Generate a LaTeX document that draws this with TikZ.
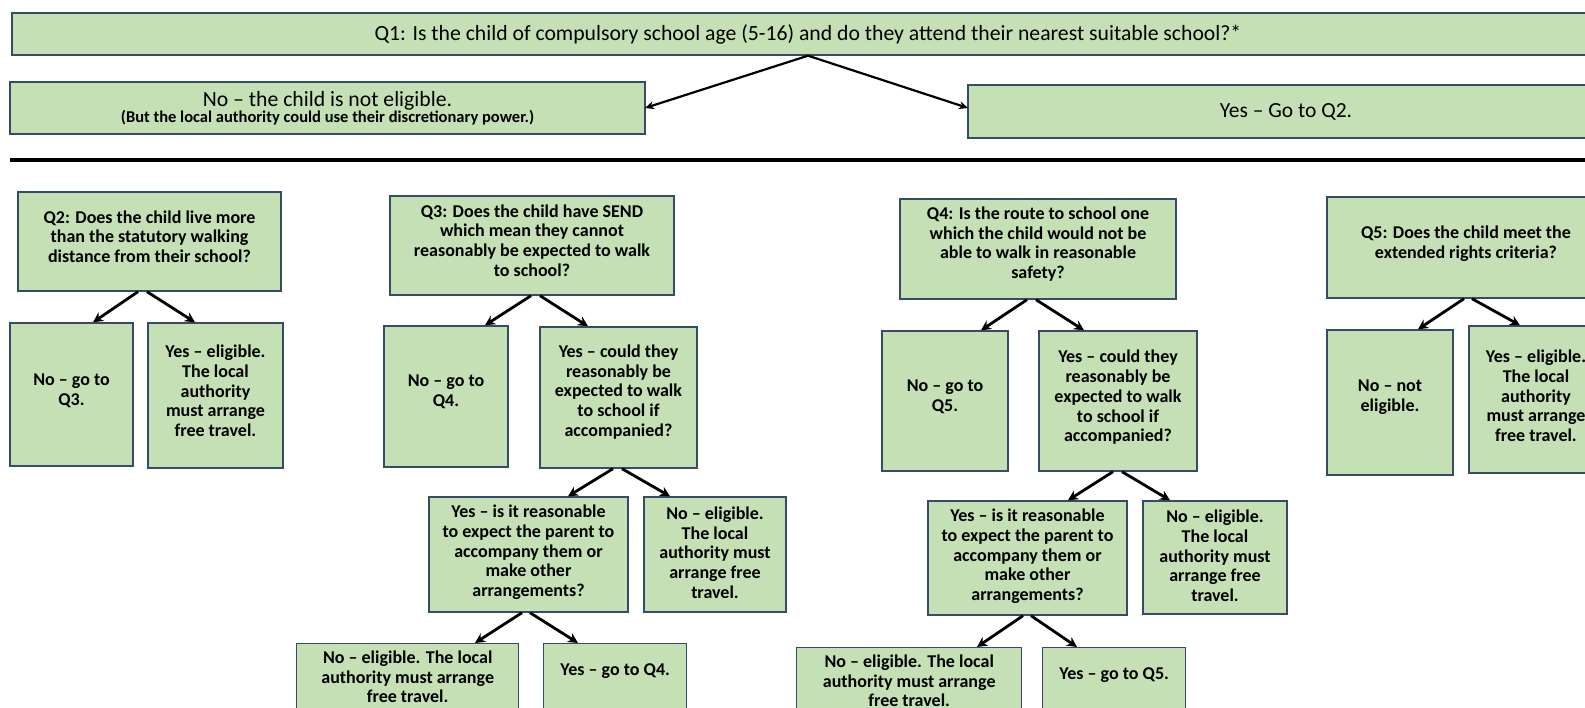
\documentclass[tikz,border=0pt]{standalone}
\usepackage{fontspec}
\setmainfont{Carlito}
\usetikzlibrary{arrows.meta,calc}
\definecolor{boxgreen}{RGB}{197,224,180}
\definecolor{boxline}{RGB}{52,76,106}
\begin{document}
\begin{tikzpicture}[x=1pt,y=1pt,
  box/.style={draw=boxline, fill=boxgreen, line width=1.4pt, inner sep=0pt, align=center},
  topbox/.style={box, font=\fontsize{21.7}{24}\selectfont},
  arr/.style={-{Stealth[length=10pt,width=10pt]}, line width=2.8pt, black},
  tarr/.style={-{Stealth[length=9pt,width=8pt]}, line width=2.2pt, black},
  txt/.style={inner sep=0pt, align=center, font=\bfseries\fontsize{18}{19.7}\selectfont}]
\clip (0,0) rectangle (1585,-708);
\fill[white] (0,0) rectangle (1585,-708);

% top part
\node[topbox, minimum width=1592pt, minimum height=42pt] (q1) at (808,-34)
  {Q1: Is the child of compulsory school age (5-16) and do they attend their nearest suitable school?*};
\node[box, minimum width=635pt, minimum height=52pt] (no1) at (327.5,-108)
  {{\fontsize{21.7}{22}\selectfont No -- the child is not eligible.}\\[-1pt]{\bfseries\fontsize{16.5}{18}\selectfont (But the local authority could use their discretionary power.)}};
\node[box, minimum width=636pt, minimum height=53pt, font=\fontsize{21.5}{24}\selectfont] (yes1) at (1286,-111.5)
  {Yes -- Go to Q2.};
\draw[tarr] (808,0 |- q1.south) -- (645,-108);
\draw[tarr] (808,0 |- q1.south) -- (968,-108);

\draw[line width=3.8pt, black] (10,-160) -- (1600,-160);

% Q2
\node[box, minimum width=263pt, minimum height=99pt] (q2) at (149.5,-241.5) {};
\node[txt] (q2t) at ([yshift=5pt]q2.center)
  {Q2: Does the child live more\\than the statutory walking\\distance from their school?};
\node[box, minimum width=123pt, minimum height=143pt] (q2n) at (71.5,-394.5) {};
\node[txt] (q2nt) at ([yshift=4pt]q2n.center) {No -- go to\\Q3.};
\node[box, minimum width=135pt, minimum height=145pt] (q2y) at (215.5,-395.5) {};
\node[txt] (q2yt) at ([yshift=4.5pt]q2y.center)
  {Yes -- eligible.\\The local\\authority\\must arrange\\free travel.};
\draw[arr] (138,0 |- q2.south) -- (93,0 |- q2n.north);
\draw[arr] (147,0 |- q2.south) -- (195,0 |- q2y.north);

% Q3
\node[box, minimum width=284pt, minimum height=99pt] (q3) at (532,-245.5) {};
\node[txt] (q3t) at ([yshift=5pt]q3.center)
  {Q3: Does the child have SEND\\which mean they cannot\\reasonably be expected to walk\\to school?};
\node[box, minimum width=124pt, minimum height=141pt] (q3n) at (446,-396.5) {};
\node[txt] (q3nt) at ([yshift=4.5pt]q3n.center) {No -- go to\\Q4.};
\node[box, minimum width=157pt, minimum height=141pt] (q3y) at (618.5,-397.5) {};
\node[txt] (q3yt) at ([yshift=5.5pt]q3y.center)
  {Yes -- could they\\reasonably be\\expected to walk\\to school if\\accompanied?};
\draw[arr] (531,0 |- q3.south) -- (485,0 |- q3n.north);
\draw[arr] (540,0 |- q3.south) -- (588,0 |- q3y.north);

\node[box, minimum width=199pt, minimum height=115pt] (q3r) at (528.5,-554.5) {};
\node[txt] (q3rt) at ([yshift=2pt]q3r.center)
  {Yes -- is it reasonable\\to expect the parent to\\accompany them or\\make other\\arrangements?};
\node[box, minimum width=142pt, minimum height=115pt] (q3e) at (715,-554.5) {};
\node[txt] (q3et) at ([yshift=2pt]q3e.center)
  {No -- eligible.\\The local\\authority must\\arrange free\\travel.};
\draw[arr] (613,0 |- q3y.south) -- (568,0 |- q3r.north);
\draw[arr] (622,0 |- q3y.south) -- (670,0 |- q3e.north);

\node[box, minimum width=222pt, minimum height=120pt, anchor=north west] (q3bn) at (296,-643) {};
\node[txt] (q3bnt) at ([yshift=-34pt]q3bn.north)
  {No -- eligible. The local\\authority must arrange\\free travel.};
\node[box, minimum width=143pt, minimum height=120pt, anchor=north west] (q3by) at (543,-643) {};
\node[txt] (q3byt) at ([yshift=-28pt]q3by.north) {Yes -- go to Q4.};
\draw[arr] (522,0 |- q3r.south) -- (475,0 |- q3bn.north);
\draw[arr] (530,0 |- q3r.south) -- (578,0 |- q3by.north);

% Q4
\node[box, minimum width=276pt, minimum height=100pt] (q4) at (1038,-249) {};
\node[txt] (q4t) at ([yshift=5pt]q4.center)
  {Q4: Is the route to school one\\which the child would not be\\able to walk in reasonable\\safety?};
\node[box, minimum width=126pt, minimum height=140pt] (q4n) at (945,-401) {};
\node[txt] (q4nt) at ([yshift=4pt]q4n.center) {No -- go to\\Q5.};
\node[box, minimum width=158pt, minimum height=140pt] (q4y) at (1118,-401) {};
\node[txt] (q4yt) at ([yshift=3.5pt]q4y.center)
  {Yes -- could they\\reasonably be\\expected to walk\\to school if\\accompanied?};
\draw[arr] (1027,0 |- q4.south) -- (981,0 |- q4n.north);
\draw[arr] (1036,0 |- q4.south) -- (1084,0 |- q4y.north);

\node[box, minimum width=199pt, minimum height=114pt] (q4r) at (1027.5,-558) {};
\node[txt] (q4rt) at ([yshift=1.5pt]q4r.center)
  {Yes -- is it reasonable\\to expect the parent to\\accompany them or\\make other\\arrangements?};
\node[box, minimum width=144pt, minimum height=113pt] (q4e) at (1215,-557.5) {};
\node[txt] (q4et) at ([yshift=1.5pt]q4e.center)
  {No -- eligible.\\The local\\authority must\\arrange free\\travel.};
\draw[arr] (1113,0 |- q4y.south) -- (1068,0 |- q4r.north);
\draw[arr] (1122,0 |- q4y.south) -- (1170,0 |- q4e.north);

\node[box, minimum width=225pt, minimum height=120pt, anchor=north west] (q4bn) at (796,-647) {};
\node[txt] (q4bnt) at ([yshift=-34pt]q4bn.north)
  {No -- eligible. The local\\authority must arrange\\free travel.};
\node[box, minimum width=143pt, minimum height=120pt, anchor=north west] (q4by) at (1042,-647) {};
\node[txt] (q4byt) at ([yshift=-28pt]q4by.north) {Yes -- go to Q5.};
\draw[arr] (1023,0 |- q4r.south) -- (977,0 |- q4bn.north);
\draw[arr] (1031,0 |- q4r.south) -- (1077,0 |- q4by.north);

% Q5
\node[box, minimum width=278pt, minimum height=101pt] (q5) at (1466,-247.5) {};
\node[txt] (q5t) at ([yshift=4pt]q5.center)
  {Q5: Does the child meet the\\extended rights criteria?};
\node[box, minimum width=126pt, minimum height=145pt] (q5n) at (1390,-402.5) {};
\node[txt] (q5nt) at ([yshift=5pt]q5n.center) {No -- not\\eligible.};
\node[box, minimum width=134pt, minimum height=147pt] (q5y) at (1536,-399.5) {};
\node[txt] (q5yt) at ([yshift=3.5pt]q5y.center)
  {Yes -- eligible.\\The local\\authority\\must arrange\\free travel.};
\draw[arr] (1464,0 |- q5.south) -- (1418,0 |- q5n.north);
\draw[arr] (1472,0 |- q5.south) -- (1520,0 |- q5y.north);
\end{tikzpicture}
\end{document}
